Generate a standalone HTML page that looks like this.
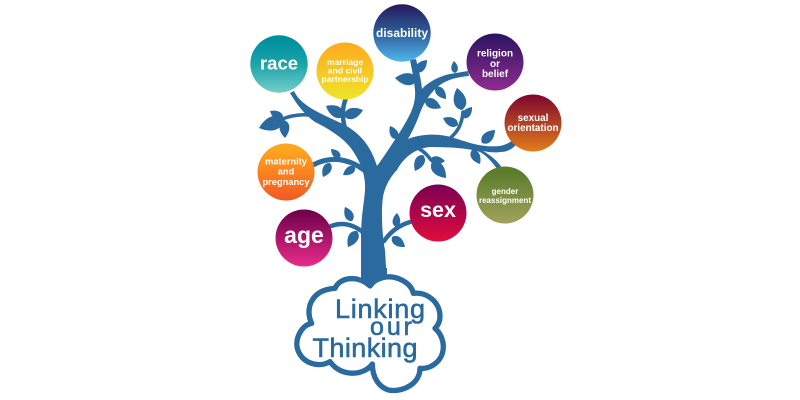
<!DOCTYPE html>
<html><head><meta charset="utf-8"><style>
html,body{margin:0;padding:0;background:#fff}
svg{display:block}
text{font-family:"Liberation Sans",sans-serif;font-weight:bold;fill:#fff;text-anchor:middle}
text.t{fill:#2a6a9e;font-weight:normal;stroke:#2a6a9e;stroke-width:.6}
</style></head><body>
<svg width="800" height="400" viewBox="0 0 800 400" xmlns="http://www.w3.org/2000/svg">
<defs>
<linearGradient id="g1" x1="0" y1="0" x2="0" y2="1"><stop offset=".1" stop-color="#00919f"/><stop offset=".5" stop-color="#1ba3aa"/><stop offset="1" stop-color="#74cec9"/></linearGradient>
<linearGradient id="g2" x1="0" y1="0" x2="0" y2="1"><stop offset="0" stop-color="#fdaa20"/><stop offset="1" stop-color="#efe428"/></linearGradient>
<linearGradient id="g3" x1="0" y1="0" x2="0" y2="1"><stop offset="0" stop-color="#241a5b"/><stop offset=".5" stop-color="#2d5f9b"/><stop offset="1" stop-color="#50b7ec"/></linearGradient>
<linearGradient id="g4" x1="0" y1="0" x2="0" y2="1"><stop offset="0" stop-color="#2b1460"/><stop offset="1" stop-color="#8f2b91"/></linearGradient>
<linearGradient id="g5" x1="0" y1="0" x2="0" y2="1"><stop offset="0" stop-color="#7f052f"/><stop offset="1" stop-color="#e17d1b"/></linearGradient>
<linearGradient id="g6" x1="0" y1="0" x2="0" y2="1"><stop offset=".1" stop-color="#5b7c2c"/><stop offset="1" stop-color="#a2a25c"/></linearGradient>
<linearGradient id="g7" x1="0" y1="0" x2="0" y2="1"><stop offset="0" stop-color="#7a0052"/><stop offset="1" stop-color="#e20c3e"/></linearGradient>
<linearGradient id="g8" x1="0" y1="0" x2="0" y2="1"><stop offset="0" stop-color="#6c0048"/><stop offset="1" stop-color="#e92b8b"/></linearGradient>
<linearGradient id="g9" x1="0" y1="0" x2="0" y2="1"><stop offset=".1" stop-color="#fda71f"/><stop offset="1" stop-color="#f25822"/></linearGradient>
<path id="leaf" d="M0 0C.15 -.37 .6 -.36 1 0C.6 .36 .15 .37 0 0Z"/>
</defs>

<!-- trunk and main limbs -->
<path fill="#2a6a9e" d="M361 284L361 240C361 215 364 205 365 190C366 175 360 160 350 147C340 135 325 127 315 122C305 115 297 105 290 93L294 91C297 97 300 100 305 104C315 112 335 120 345 125C362 135 371 147 377 166C383 158 395 140 403 127C410 115 416 105 415 90C414 80 412 70 410 60L416 59C418 68 421 78 422 89C428 82 440 76 450 74C456 73 462 72 468 71L469 76C458 77 450 79 443 83C433 89 425 100 420 113C416 124 412 132 408 139C418 135 430 134 440 135C450 136 460 140 467 142C480 146 490 147 500 146C505 145 509 143 513 140L516 145C511 150 506 152 500 152C494 153 488 152 483 151C490 155 497 160 502 168L498 170C492 162 487 156 480 152C472 149 455 147 430 147C418 148 405 155 397 170C392 175 385 185 383 197C381 210 382 235 385 250L387 284Z"/>
<g fill="none" stroke="#2a6a9e" stroke-linecap="round">
<path d="M346 98C342 108 342 118 345 128" stroke-width="4.5"/>
<path d="M322 118C308 113 294 114 280 120" stroke-width="3.5"/>
<path d="M313 165C330 156 348 158 364 170" stroke-width="5"/>
<path d="M331 226C342 222 353 224 364 233" stroke-width="4.5"/>
<path d="M410 222C400 225 391 231 384 241" stroke-width="4.5"/>
<path d="M448 140C458 132 462 124 463 112" stroke-width="3.5"/>
<path d="M412 146C420 148 426 153 431 160" stroke-width="3.5"/>
</g>

<!-- leaves: matrix(dx dy -dy dx bx by) -->
<g fill="#2a6a9e">
<use href="#leaf" transform="matrix(-13 -8 8 -13 283 119)"/>
<use href="#leaf" transform="matrix(-24 8 -8 -24 283 120)"/>
<use href="#leaf" transform="matrix(1 18 -18 1 284 120)"/>
<use href="#leaf" transform="matrix(-18 -10 10 -18 344 116)"/>
<use href="#leaf" transform="matrix(19 -6 6 19 344 116)"/>
<use href="#leaf" transform="matrix(-22 -2 2 -22 417 80)"/>
<use href="#leaf" transform="matrix(11 -12 12 11 416 72)"/>
<use href="#leaf" transform="matrix(-1 -12 12 -1 455 73)"/>
<use href="#leaf" transform="matrix(10 12 -12 10 436 87)"/>
<use href="#leaf" transform="matrix(16 8 -8 16 425 100)"/>
<use href="#leaf" transform="matrix(-7 -13 13 -7 397 139)"/>
<use href="#leaf" transform="matrix(-5 -22 22 -5 462 110)"/>
<use href="#leaf" transform="matrix(9 -11 11 9 463 118)"/>
<use href="#leaf" transform="matrix(-15 -7 7 -15 458 125)"/>
<use href="#leaf" transform="matrix(13 -13 13 13 482 143)"/>
<use href="#leaf" transform="matrix(8 14 -14 8 472 150)"/>
<use href="#leaf" transform="matrix(-8 16 -16 -8 423 155)"/>
<use href="#leaf" transform="matrix(15 1 -1 15 430 160)"/>
<use href="#leaf" transform="matrix(14 16 -16 14 432 162)"/>
<use href="#leaf" transform="matrix(-9 -9 9 -9 340 158)"/>
<use href="#leaf" transform="matrix(-7 14 -14 -7 330 163)"/>
<use href="#leaf" transform="matrix(-12 8 -8 -12 355 167)"/>
<use href="#leaf" transform="matrix(-7 -14 14 -7 352 221)"/>
<use href="#leaf" transform="matrix(-9 16 -16 -9 357 231)"/>
<use href="#leaf" transform="matrix(1 -14 14 1 396 227)"/>
<use href="#leaf" transform="matrix(13 10 -10 13 392 237)"/>
</g>

<!-- circles -->
<circle cx="279" cy="64" r="28.7" fill="url(#g1)"/>
<circle cx="345" cy="71" r="28.5" fill="url(#g2)"/>
<circle cx="402" cy="33" r="28.7" fill="url(#g3)"/>
<circle cx="495" cy="62" r="28.5" fill="url(#g4)"/>
<circle cx="533" cy="123" r="28.5" fill="url(#g5)"/>
<circle cx="505" cy="195" r="28.5" fill="url(#g6)"/>
<circle cx="438" cy="213" r="28.5" fill="url(#g7)"/>
<circle cx="304" cy="238" r="28.5" fill="url(#g8)"/>
<circle cx="286" cy="172" r="28.5" fill="url(#g9)"/>

<!-- labels -->
<text x="279" y="69.5" font-size="18.5" textLength="38" lengthAdjust="spacingAndGlyphs">race</text>
<g font-size="8.6">
<text x="345" y="65">marriage</text>
<text x="345" y="73.5">and civil</text>
<text x="345" y="82">partnership</text>
</g>
<text x="402" y="37" font-size="12">disability</text>
<g font-size="10">
<text x="495" y="56.5">religion</text>
<text x="495" y="67">or</text>
<text x="495" y="77">belief</text>
</g>
<g font-size="9.9">
<text x="533" y="121">sexual</text>
<text x="533" y="131">orientation</text>
</g>
<g font-size="8">
<text x="505" y="194">gender</text>
<text x="505" y="203">reassignment</text>
</g>
<text x="438" y="217" font-size="21.5">sex</text>
<text x="304" y="243" font-size="23">age</text>
<g font-size="9.3">
<text x="286" y="164.5">maternity</text>
<text x="286" y="174.5">and</text>
<text x="286" y="185">pregnancy</text>
</g>

<!-- cloud (drawn in zoomed coordinates) -->
<path transform="translate(285 260) scale(.3333)" d="M255 78C270 55 310 40 350 60C370 70 382 85 385 100C425 95 465 125 465 170C465 185 458 197 450 205C480 230 490 290 440 318C428 324 415 326 405 325C405 370 355 398 310 390C280 380 262 350 262 312C240 345 170 355 135 305C100 325 50 310 37 265C30 235 50 195 80 190C60 150 75 90 150 85C165 50 220 45 255 78Z" fill="#fff" stroke="#2a6a9e" stroke-width="16" stroke-linejoin="round"/>
<path d="M362 268H387V275L371 285L362 278Z" fill="#2a6a9e"/>
<text class="t" x="380" y="318" font-size="27" textLength="90">Linking</text>
<text class="t" x="391" y="335" font-size="25" textLength="42">our</text>
<text class="t" x="365" y="357" font-size="27" textLength="105">Thinking</text>
</svg>
</body></html>
